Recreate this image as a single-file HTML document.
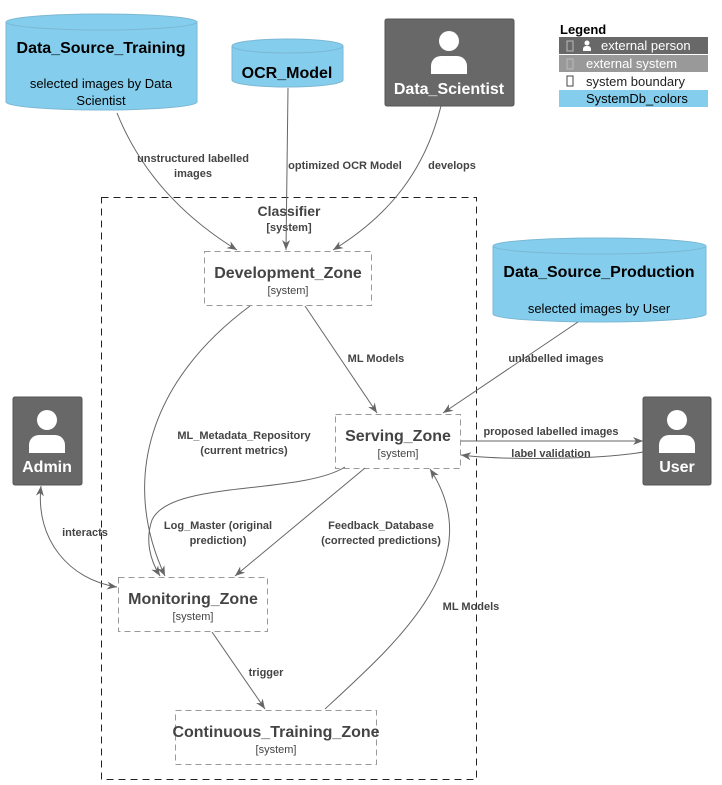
<!DOCTYPE html>
<html><head><meta charset="utf-8"><style>
body{margin:0;background:#fff}
svg{display:block;font-family:"Liberation Sans",sans-serif}
</style></head><body>
<svg width="722" height="785" viewBox="0 0 722 785" xmlns="http://www.w3.org/2000/svg">
<defs>
<marker id="a" viewBox="0 0 10 10" refX="10" refY="5" markerWidth="10" markerHeight="10" orient="auto-start-reverse" markerUnits="userSpaceOnUse"><path d="M0,1 L10,5 L0,9 L3,5 z" fill="#666"/></marker>
</defs>
<rect x="101.5" y="197.5" width="375" height="582" fill="none" stroke="#222" stroke-dasharray="7,5"/>
<text x="289" y="216" text-anchor="middle" font-size="14" font-weight="bold" fill="#444">Classifier</text>
<text x="289" y="231" text-anchor="middle" font-size="11" font-weight="bold" fill="#444">[system]</text>

<g fill="#85cdec" stroke="#7bb8d3">
<path d="M6,22 v80 a95.5,8 0 0 0 191,0 v-80"/>
<ellipse cx="101.5" cy="22" rx="95.5" ry="8"/>
<path d="M232,46 v34 a55.5,7 0 0 0 111,0 v-34"/>
<ellipse cx="287.5" cy="46" rx="55.5" ry="7"/>
<path d="M493,246 v68 a106.5,8 0 0 0 213,0 v-68"/>
<ellipse cx="599.5" cy="246" rx="106.5" ry="8"/>
</g>
<text x="101" y="53" text-anchor="middle" font-size="16" font-weight="bold" fill="#000">Data_Source_Training</text>
<text x="101" y="88" text-anchor="middle" font-size="13" fill="#000">selected images by Data</text>
<text x="101" y="105" text-anchor="middle" font-size="13" fill="#000">Scientist</text>
<text x="287" y="78" text-anchor="middle" font-size="16" font-weight="bold" fill="#000">OCR_Model</text>
<text x="599" y="277" text-anchor="middle" font-size="16" font-weight="bold" fill="#000">Data_Source_Production</text>
<text x="599" y="313" text-anchor="middle" font-size="13" fill="#000">selected images by User</text>

<g fill="#686868" stroke="#555">
<rect x="385" y="19" width="129" height="87" rx="2"/>
<rect x="13" y="397" width="69" height="88" rx="2"/>
<rect x="643" y="397" width="68" height="88" rx="2"/>
</g>
<g fill="#fff">
<circle cx="449" cy="41" r="10"/><path d="M431,74 v-8 a10,10 0 0 1 10,-10 h16 a10,10 0 0 1 10,10 v8 z"/>
<circle cx="47" cy="420" r="10"/><path d="M29,453 v-8 a10,10 0 0 1 10,-10 h16 a10,10 0 0 1 10,10 v8 z"/>
<circle cx="677" cy="420" r="10"/><path d="M659,453 v-8 a10,10 0 0 1 10,-10 h16 a10,10 0 0 1 10,10 v8 z"/>
</g>
<text x="449" y="94" text-anchor="middle" font-size="16" font-weight="bold" fill="#fff">Data_Scientist</text>
<text x="47" y="472" text-anchor="middle" font-size="16" font-weight="bold" fill="#fff">Admin</text>
<text x="677" y="472" text-anchor="middle" font-size="16" font-weight="bold" fill="#fff">User</text>

<g fill="#fff" stroke="#999" stroke-dasharray="6,4">
<rect x="204.5" y="251.5" width="167" height="54"/>
<rect x="335.5" y="414.5" width="125" height="54"/>
<rect x="118.5" y="577.5" width="149" height="54"/>
<rect x="175.5" y="710.5" width="201" height="54"/>
</g>
<g fill="#444" text-anchor="middle">
<text x="288" y="278" font-size="16" font-weight="bold">Development_Zone</text>
<text x="288" y="294" font-size="11">[system]</text>
<text x="398" y="441" font-size="16" font-weight="bold">Serving_Zone</text>
<text x="398" y="457" font-size="11">[system]</text>
<text x="193" y="604" font-size="16" font-weight="bold">Monitoring_Zone</text>
<text x="193" y="620" font-size="11">[system]</text>
<text x="276" y="737" font-size="16" font-weight="bold">Continuous_Training_Zone</text>
<text x="276" y="753" font-size="11">[system]</text>
</g>

<g fill="none" stroke="#666" stroke-width="1">
<path d="M117,113 C140,170 180,215 237,250" marker-end="url(#a)"/>
<path d="M288,88 L286,250" marker-end="url(#a)"/>
<path d="M441,106 C425,170 390,215 333,250" marker-end="url(#a)"/>
<path d="M305,306 L377,413" marker-end="url(#a)"/>
<path d="M250,306 C150,380 120,480 165,576" marker-end="url(#a)"/>
<path d="M365,468 L235,576" marker-end="url(#a)"/>
<path d="M345,467 C300,495 170,480 152,520 C145,540 150,560 160,576" marker-end="url(#a)"/>
<path d="M578,322 L443,413" marker-end="url(#a)"/>
<path d="M461,441 L643,441" marker-end="url(#a)"/>
<path d="M643,452 C600,460 500,460 461,455" marker-end="url(#a)"/>
<path d="M41,486 C35,540 70,580 117,587" marker-start="url(#a)" marker-end="url(#a)"/>
<path d="M212,632 L265,709" marker-end="url(#a)"/>
<path d="M325,709 C400,640 490,560 430,469" marker-end="url(#a)"/>
</g>
<g fill="#444" font-size="11" font-weight="bold" text-anchor="middle">
<text x="193" y="162">unstructured labelled</text><text x="193" y="177">images</text>
<text x="345" y="169">optimized OCR Model</text>
<text x="452" y="169">develops</text>
<text x="376" y="362">ML Models</text>
<text x="244" y="439">ML_Metadata_Repository</text><text x="244" y="454">(current metrics)</text>
<text x="218" y="529">Log_Master (original</text><text x="218" y="544">prediction)</text>
<text x="381" y="529">Feedback_Database</text><text x="381" y="544">(corrected predictions)</text>
<text x="556" y="362">unlabelled images</text>
<text x="551" y="435">proposed labelled images</text>
<text x="551" y="457">label validation</text>
<text x="85" y="536">interacts</text>
<text x="266" y="676">trigger</text>
<text x="471" y="610">ML Models</text>
</g>

<text x="560" y="34" font-size="13" font-weight="bold" fill="#000">Legend</text>
<rect x="559" y="37" width="149" height="17" fill="#686868"/>
<rect x="559" y="55" width="149" height="17" fill="#999"/>
<rect x="559" y="90" width="149" height="17" fill="#85cdec"/>
<g fill="none" stroke="#bbb"><rect x="567" y="41" width="6" height="10"/><rect x="567" y="59" width="6" height="10"/></g>
<rect x="567" y="76" width="6" height="10" fill="none" stroke="#444"/>
<circle cx="587" cy="43" r="2.5" fill="#fff"/><path d="M583,51 v-2 a3,3 0 0 1 3,-3 h2 a3,3 0 0 1 3,3 v2z" fill="#fff"/>
<g font-size="13">
<text x="601" y="50" fill="#fff">external person</text>
<text x="586" y="68" fill="#fff">external system</text>
<text x="586" y="86" fill="#222">system boundary</text>
<text x="586" y="103" fill="#000">SystemDb_colors</text>
</g>
</svg>
</body></html>
